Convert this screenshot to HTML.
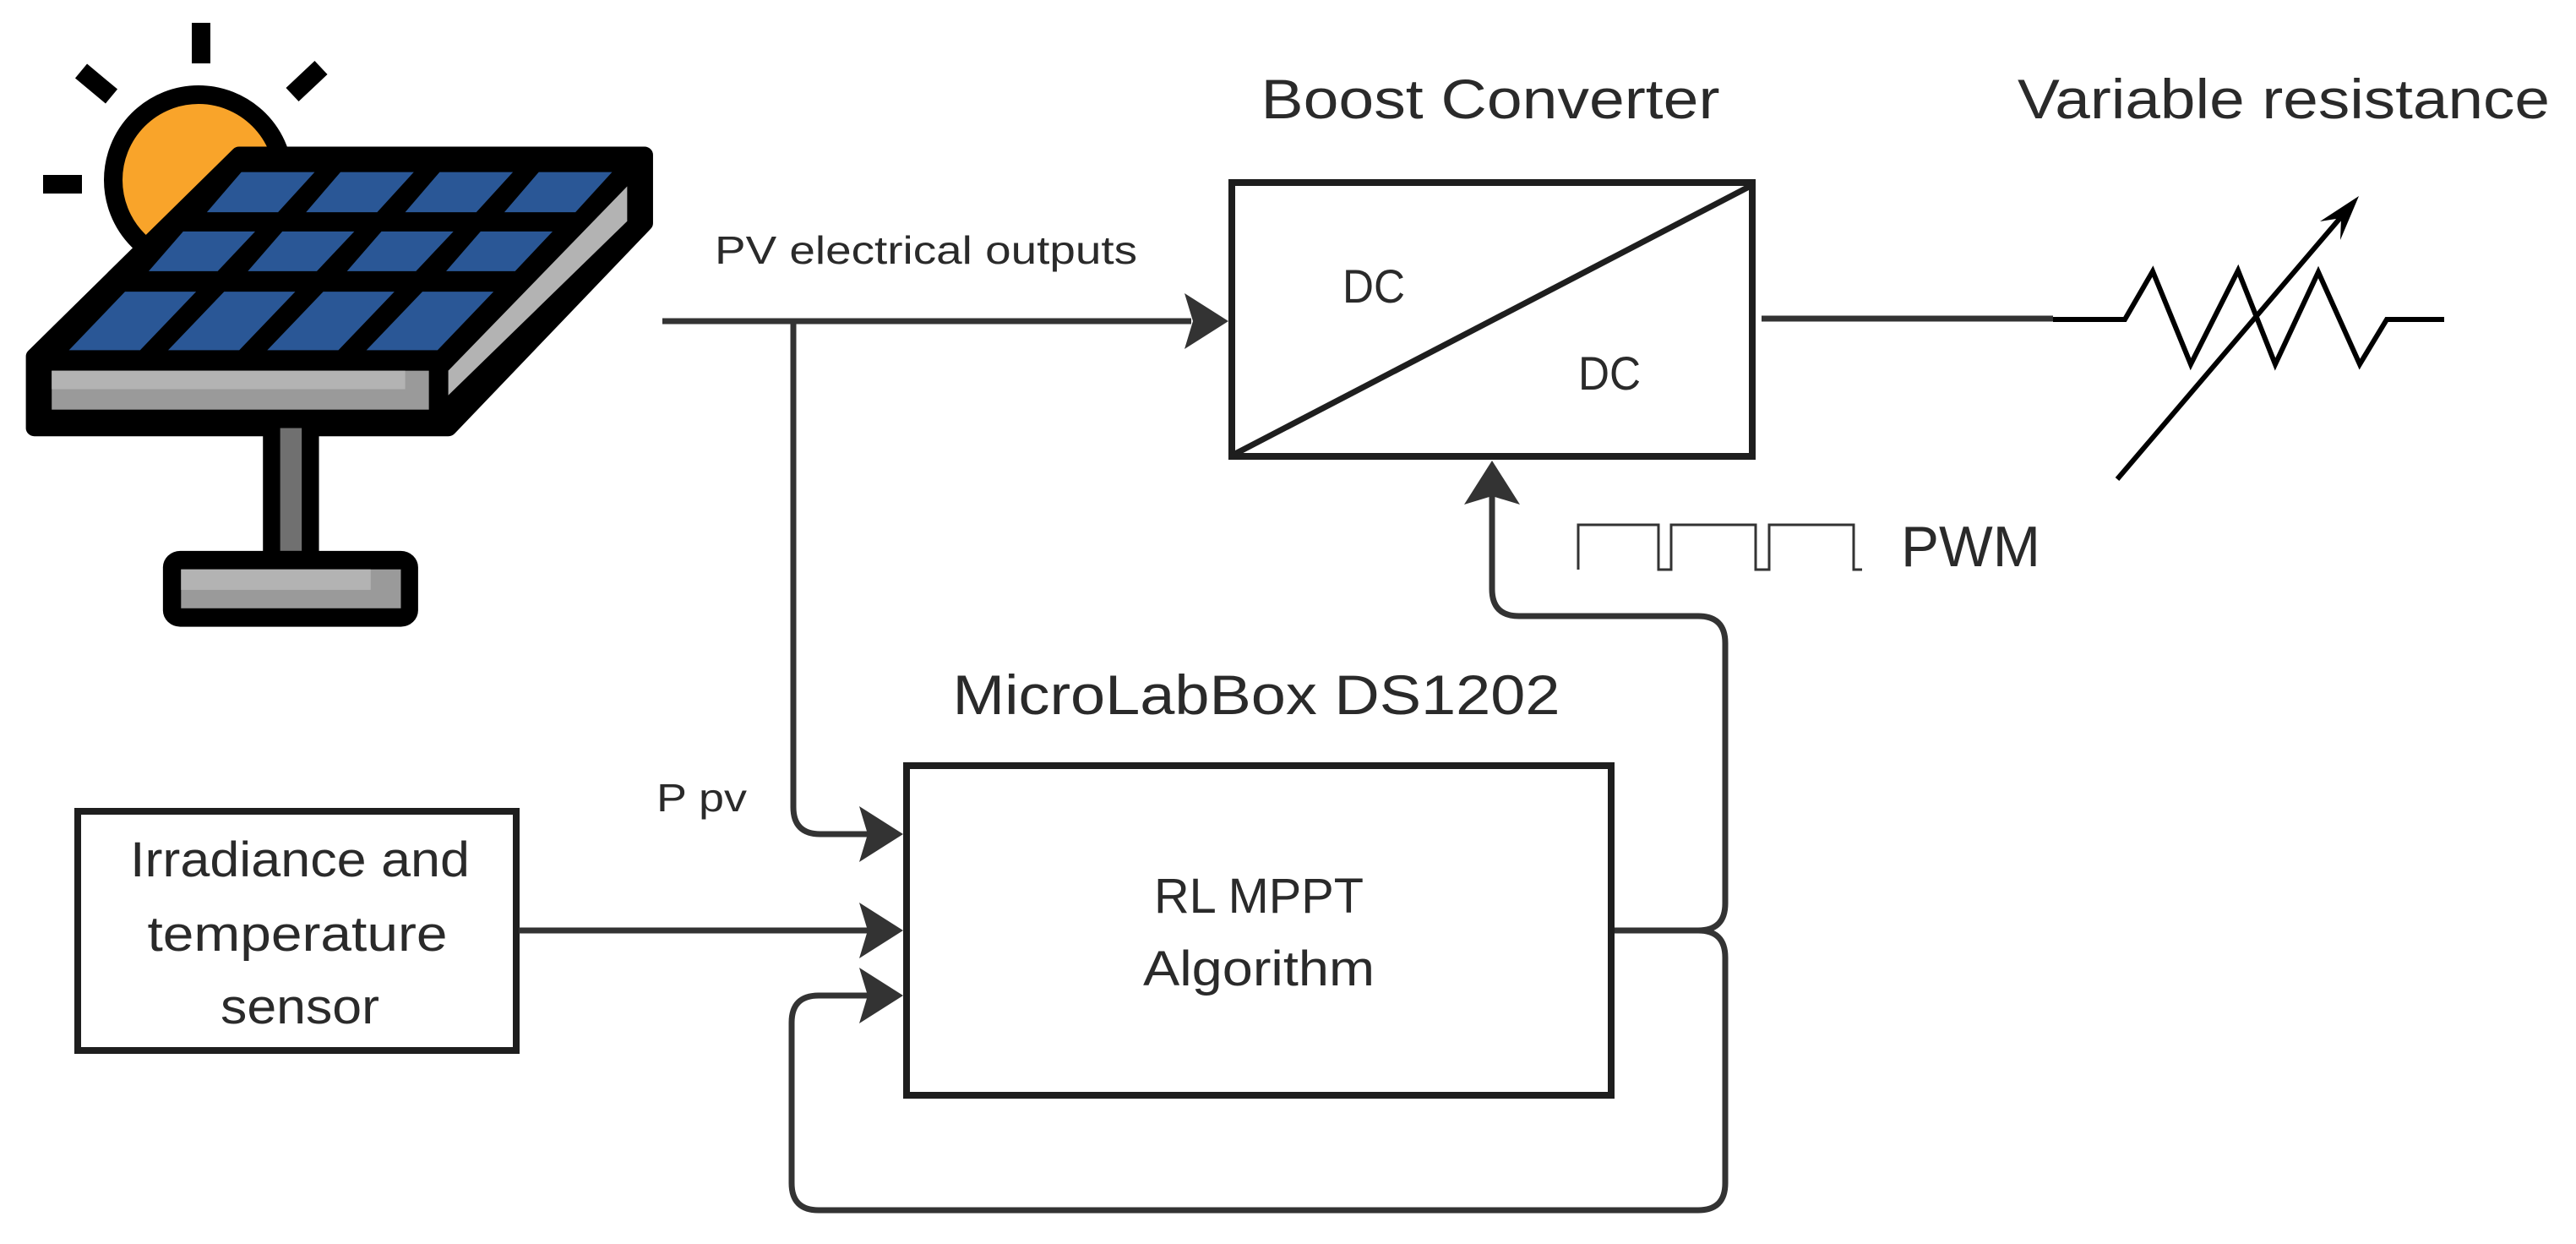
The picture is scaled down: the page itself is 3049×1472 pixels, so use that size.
<!DOCTYPE html>
<html><head><meta charset="utf-8"><style>
html,body{margin:0;padding:0;background:#fff;}
svg{display:block;}
text{font-family:"Liberation Sans",sans-serif;fill:#2a2a2a;}
</style></head><body>
<svg width="3049" height="1472" viewBox="0 0 3049 1472" xmlns="http://www.w3.org/2000/svg">
<defs>
<path id="ah" d="M0 0 L-52 -33 L-42 0 L-52 33 Z" fill="#333"/>
</defs>
<!-- Sun -->
<g stroke="#000" stroke-width="22" stroke-linecap="butt">
<line x1="238" y1="27" x2="238" y2="75"/>
<line x1="96" y1="84" x2="132" y2="114"/>
<line x1="346" y1="112" x2="380" y2="80"/>
<line x1="51" y1="218" x2="97" y2="218"/>
</g>
<circle cx="235" cy="213" r="101" fill="#f9a42a" stroke="#000" stroke-width="22"/>
<!-- Panel (zoom coords) -->
<g transform="scale(0.5102,0.4847)">
<polygon points="80,870 555,378 1495,378 1495,545 1040,1045 80,1045" fill="#000" stroke="#000" stroke-width="40" stroke-linejoin="round"/>
<rect x="610" y="1045" width="130" height="310" fill="#000"/>
<rect x="650" y="1045" width="50" height="300" fill="#707070"/>
<rect x="378" y="1345" width="592" height="185" rx="40" fill="#000"/>
<rect x="420" y="1390" width="510" height="95" fill="#9a9a9a"/>
<rect x="420" y="1390" width="440" height="50" fill="#b3b3b3"/>
<rect x="120" y="905" width="875" height="95" fill="#9a9a9a"/>
<rect x="120" y="905" width="820" height="45" fill="#b3b3b3"/>
<polygon points="1040,905 1455,455 1455,540 1040,965" fill="#b3b3b3"/>
<g fill="#2a5796">
<polygon points="560,420 730,420 645,518 480,518"/>
<polygon points="790,420 960,420 875,518 710,518"/>
<polygon points="1020,420 1190,420 1105,518 940,518"/>
<polygon points="1250,420 1420,420 1335,518 1170,518"/>
<polygon points="425,565 592,565 505,662 345,662"/>
<polygon points="655,565 822,565 735,662 575,662"/>
<polygon points="885,565 1052,565 965,662 805,662"/>
<polygon points="1115,565 1282,565 1195,662 1035,662"/>
<polygon points="290,712 455,712 325,855 160,855"/>
<polygon points="520,712 685,712 555,855 390,855"/>
<polygon points="750,712 915,712 785,855 620,855"/>
<polygon points="980,712 1145,712 1015,855 850,855"/>
</g>
</g>
<!-- Labels -->
<text x="1764" y="140" font-size="66" text-anchor="middle" textLength="543" lengthAdjust="spacingAndGlyphs">Boost Converter</text>
<text x="2703" y="140" font-size="66" text-anchor="middle" textLength="630" lengthAdjust="spacingAndGlyphs">Variable resistance</text>
<text x="846" y="312" font-size="46" textLength="500" lengthAdjust="spacingAndGlyphs">PV electrical outputs</text>
<text x="1589" y="358" font-size="56" textLength="74" lengthAdjust="spacingAndGlyphs">DC</text>
<text x="1868" y="461" font-size="56" textLength="74" lengthAdjust="spacingAndGlyphs">DC</text>
<text x="2250" y="670" font-size="68" textLength="165" lengthAdjust="spacingAndGlyphs">PWM</text>
<text x="1487" y="845" font-size="66" text-anchor="middle" textLength="719" lengthAdjust="spacingAndGlyphs">MicroLabBox DS1202</text>
<text x="777" y="960" font-size="46" textLength="107" lengthAdjust="spacingAndGlyphs">P pv</text>
<text x="355" y="1037" font-size="58" text-anchor="middle" textLength="402" lengthAdjust="spacingAndGlyphs">Irradiance and</text>
<text x="352" y="1125" font-size="58" text-anchor="middle" textLength="355" lengthAdjust="spacingAndGlyphs">temperature</text>
<text x="355" y="1211" font-size="58" text-anchor="middle" textLength="188" lengthAdjust="spacingAndGlyphs">sensor</text>
<text x="1490" y="1080" font-size="58" text-anchor="middle" textLength="248" lengthAdjust="spacingAndGlyphs">RL MPPT</text>
<text x="1490" y="1166" font-size="58" text-anchor="middle" textLength="274" lengthAdjust="spacingAndGlyphs">Algorithm</text>
<!-- Boxes -->
<g fill="none" stroke="#1e1e1e" stroke-width="8">
<rect x="1458" y="216" width="616" height="324"/>
<line x1="1460" y1="538" x2="2072" y2="220" stroke-width="7"/>
<rect x="1073" y="906" width="834" height="390"/>
<rect x="92" y="960" width="519" height="283"/>
</g>
<!-- Wires -->
<g fill="none" stroke="#333" stroke-width="7">
<path d="M784 380 H1410"/>
<path d="M939 380 V955 Q939 987 971 987 H1030"/>
<path d="M614 1101 H1030"/>
<path d="M1911 1101 H2010 Q2042 1101 2042 1069 V761 Q2042 729 2010 729 H1798 Q1766 729 1766 697 V585"/>
<path d="M2010 1101 Q2042 1101 2042 1133 V1400 Q2042 1432 2010 1432 H969 Q937 1432 937 1400 V1210 Q937 1178 969 1178 H1030"/>
<path d="M2085 377 H2430"/>
</g>
<use href="#ah" transform="translate(1454,380)"/>
<use href="#ah" transform="translate(1069,987)"/>
<use href="#ah" transform="translate(1069,1101)"/>
<use href="#ah" transform="translate(1069,1178)"/>
<use href="#ah" transform="translate(1766,545) rotate(-90)"/>
<!-- Resistor -->
<polyline points="2430,378 2515,378 2548,321 2593,431 2649,320 2693,431 2744,322 2793,431 2825,378 2893,378" fill="none" stroke="#000" stroke-width="6" stroke-linejoin="miter"/>
<line x1="2506" y1="567" x2="2775" y2="252" stroke="#000" stroke-width="6"/>
<polygon points="2792,232 2746,262 2771,258 2770,284" fill="#000"/>
<!-- PWM pulse -->
<polyline points="1868,674 1868,621 1963,621 1963,674 1978,674 1978,621 2078,621 2078,674 2094,674 2094,621 2194,621 2194,674 2204,674" fill="none" stroke="#333" stroke-width="3"/>
</svg>
</body></html>
